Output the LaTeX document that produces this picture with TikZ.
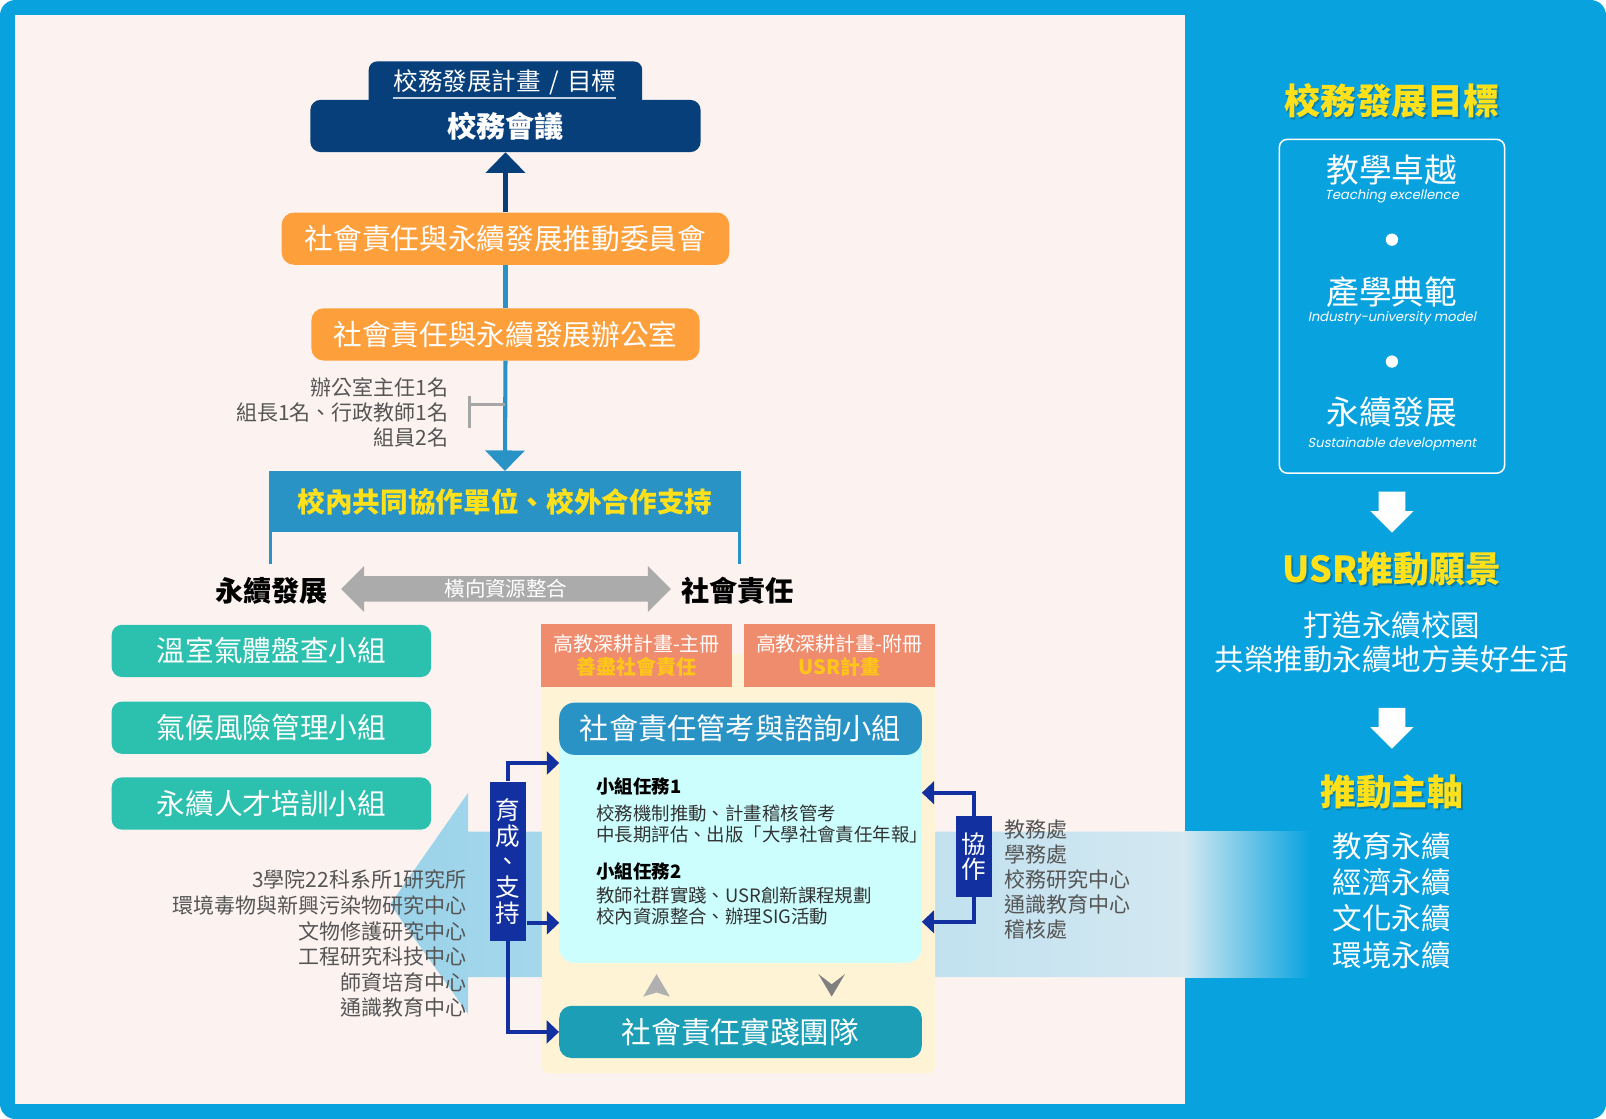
\documentclass[tikz,border=0pt]{standalone}
\usepackage{fontspec}
\setmainfont{Noto Sans CJK TC}
\newfontfamily\enfont{Poppins}[AutoFakeSlant=0.2]
\usetikzlibrary{positioning,shapes.arrows,arrows.meta}

\definecolor{frameblue}{HTML}{08A3DF}
\definecolor{panelpink}{HTML}{FCF3F1}
\definecolor{deepnavy}{HTML}{073F7A}
\definecolor{orangefill}{HTML}{FD9F3B}
\definecolor{midblue}{HTML}{2A93C6}
\definecolor{goldtext}{HTML}{FFE11B}
\definecolor{greenfill}{HTML}{2CC0AE}
\definecolor{salmon}{HTML}{EF8C6E}
\definecolor{tabgold}{HTML}{FFC61A}
\definecolor{paneyellow}{HTML}{FFF3D6}
\definecolor{cyanfill}{HTML}{CCFEFE}
\definecolor{tealfill}{HTML}{1C9FB6}
\definecolor{barnavy}{HTML}{1230A0}
\definecolor{textgray}{HTML}{555555}
\definecolor{bandleft}{HTML}{9AD3EA}
\definecolor{bandright}{HTML}{D3E8F1}

\newcommand{\txtsize}[2]{\fontsize{#1}{#2}\selectfont}

\tikzset{
    plainbox/.style={inner sep=0pt, align=center, text=white},
    orangebox/.style={plainbox, fill=orangefill, rounded corners=12pt, minimum height=51pt, font=\txtsize{28}{34}},
    greenbox/.style={plainbox, fill=greenfill, rounded corners=10pt, minimum width=312pt, minimum height=51pt, font=\txtsize{28}{34}},
    tabbox/.style={plainbox, fill=salmon, minimum width=186pt, minimum height=62pt, font=\txtsize{19.5}{23}},
    sidebar/.style={plainbox, fill=barnavy, minimum width=36pt, font=\txtsize{24}{25}},
    navyline/.style={barnavy, line width=4pt, -{Triangle[width=22pt,length=12pt]}},
    graytext/.style={inner sep=0pt, text=textgray, font=\txtsize{20.5}{24.5}},
    goldhead/.style={inner sep=0pt, text=goldtext, font=\bfseries\txtsize{35}{40}},
}

\begin{document}
\begin{tikzpicture}[x=1pt,y=-1pt]
\useasboundingbox (0,0) rectangle (1568,1092.5);
\fill[frameblue, rounded corners=15pt] (0,0) rectangle (1568,1092.5);
\fill[panelpink] (15,15) rectangle (1157,1078);

% band behind the groups
\shade[left color=bandleft, right color=bandright] (1157,812) -- (457,812) -- (457,774) -- (381,883) -- (457,990) -- (457,954) -- (1157,954) -- cycle;
\shade[left color=bandright, right color=frameblue] (1157,812) rectangle (1279,954);

% top of the chain
\fill[deepnavy, rounded corners=8pt] (360,60) rectangle (627,115);
\node[plainbox, font=\txtsize{24}{28}] (plan) at (493,80) {校務發展計畫\,\,/\,\,目標};
\draw[white!75!deepnavy, line width=1.5pt] ([yshift=-3pt]plan.south west) -- ([yshift=-3pt]plan.south east);
\node[plainbox, fill=deepnavy, rounded corners=10pt, minimum width=381pt, minimum height=51pt, font=\bfseries\txtsize{28.5}{34}] (council) at (493.5,123) {校務會議};

\node[orangebox, minimum width=437pt] (committee) at (493.5,233) {社會責任與永續發展推動委員會};
\node[orangebox, minimum width=379pt] (office) at (493.5,326.5) {社會責任與永續發展辦公室};
\node[plainbox, fill=midblue, text=goldtext, minimum width=460pt, minimum height=59pt, font=\bfseries\txtsize{27}{30}] (support) at (493,489.5) {校內共同協作單位、校外合作支持};

\draw[deepnavy, line width=4pt, -{Triangle[width=38pt,length=20pt]}] (committee.north) -- (council.south);
\draw[midblue, line width=4pt] (office.north) -- (committee.south);
\draw[midblue, line width=4pt, -{Triangle[width=38pt,length=20pt]}] (office.south) -- (support.north);
\draw[midblue, line width=3pt] ([xshift=1.5pt]support.south west) -- ++(0,31);
\draw[midblue, line width=3pt] ([xshift=-1.5pt]support.south east) -- ++(0,31);

% staff
\node[graytext, anchor=east, align=right] (staff) at (438,403) {辦公室主任1名\\組長1名、行政教師1名\\組員2名};
\coordinate (brk) at (458,395);
\draw[black!35, line width=3pt] (458,387) -- (458,418) (brk) -- (brk -| office.south);

% two sides
\node[inner sep=0pt, font=\bfseries\txtsize{27.5}{30}] (sdlabel) at (265,577) {永續發展};
\node[inner sep=0pt, font=\bfseries\txtsize{27.5}{30}] (srlabel) at (720,577) {社會責任};
\node[double arrow, fill=black!33, text=white, minimum height=322pt, minimum width=45pt, double arrow head extend=10pt, inner xsep=0pt, inner ysep=3pt, font=\txtsize{20}{24}] (resarrow) at (494,575) {橫向資源整合};

\foreach \name/\y/\label in {ghg/635.5/溫室氣體盤查小組, risk/710.5/氣候風險管理小組, talent/784.5/永續人才培訓小組}
    \node[greenbox] (\name) at (265,\y) {\label};

% social responsibility panel
\fill[paneyellow, rounded corners=8pt] (529,639) rectangle (913,1048);
\node[tabbox] (mainbook) at (621.5,640) {高教深耕計畫-主冊\\{\bfseries\color{tabgold}善盡社會責任}};
\node[tabbox] (usrbook) at (819.5,640) {高教深耕計畫-附冊\\{\bfseries\color{tabgold}USR計畫}};
\node[fill=cyanfill, rounded corners=15pt, minimum width=354pt, minimum height=254pt, inner sep=0pt] (tasks) at (723,813) {};
\node[plainbox, fill=midblue, rounded corners=15pt, minimum width=354pt, minimum height=51pt, font=\txtsize{28.5}{34}] (review) at (723,711.5) {社會責任管考與諮詢小組};
\foreach \y/\line [count=\i] in {768/{\bfseries\color{black}小組任務1}, 794/校務機制推動、計畫稽核管考, 815/中長期評估、出版「大學社會責任年報」, 851/{\bfseries\color{black}小組任務2}, 874/教師社群實踐、USR創新課程規劃, 895/校內資源整合、辦理SIG活動}
    \node[anchor=west, inner sep=0pt, text=black!80, font=\txtsize{18}{21}] (task\i) at (582,\y) {\line};
\fill[black!31] (628,973) -- (641,951) -- (654,973) -- (641,969) -- cycle;
\fill[gray] (799,951) -- (812,973) -- (825,951) -- (812,961) -- cycle;
\node[plainbox, fill=tealfill, rounded corners=12pt, minimum width=354pt, minimum height=51pt, font=\txtsize{29}{34}] (practice) at (723,1007.5) {社會責任實踐團隊};

% support and cooperation
\node[sidebar, minimum height=156pt] (nurture) at (496,841) {育\\成\\、\\支\\持};
\node[sidebar, minimum height=79pt] (collab) at (951,836.5) {協\\作};
\coordinate (nurtin) at (546,745);
\coordinate (nurtmid) at (546,901);
\coordinate (collin) at (900,774);
\coordinate (collout) at (900,900);
\draw[navyline] (nurture.north) |- (nurtin);
\draw[navyline] (nurture.east |- nurtmid) -- (nurtmid);
\draw[navyline] (nurture.south) |- (practice.west);
\draw[navyline] (collab.north) |- (collin);
\draw[navyline] (collab.south) |- (collout);

\node[graytext, anchor=east, align=right, font=\txtsize{20.5}{25}] (units) at (456,921.5) {3學院22科系所1研究所\\環境毒物與新興污染物研究中心\\文物修護研究中心\\工程研究科技中心\\師資培育中心\\通識教育中心};
\node[graytext, anchor=west, align=left] (partners) at (981,859) {教務處\\學務處\\校務研究中心\\通識教育中心\\稽核處};

% right column
\foreach \name/\y/\txt in {goaltitle/98/校務發展目標, visiontitle/556/USR推動願景, axistitle/773/推動主軸} {
    \node[goldhead, text=black, text opacity=0.22] (\name shadow) at (1360.5,\y+2) {\txt};
    \node[goldhead] (\name) at (1359,\y) {\txt};
}
\node[draw=white, line width=1.5pt, rounded corners=8pt, minimum width=220pt, minimum height=326pt, inner sep=0pt] (goalbox) at (1359,299) {};
\foreach \zh/\en/\y/\ey [count=\i] in {教學卓越/Teaching excellence/166/192, 產學典範/Industry-university model/285/311, 永續發展/Sustainable development/402/434} {
    \node[plainbox, font=\txtsize{32}{36}] (goal\i) at (1359,\y) {\zh};
    \node[plainbox, font=\enfont\itshape\txtsize{12.8}{15}] (goalen\i) at (1359,\ey) {\en};
}
\foreach \y in {234,353}
    \fill[white] (1359,\y) circle (6pt);
\foreach \y in {480,691}
    \fill[white] (1346,\y) -- (1372,\y) -- (1372,\y+19) -- (1380,\y+19) -- (1359,\y+40) -- (1338,\y+19) -- (1346,\y+19) -- cycle;
\node[plainbox, font=\txtsize{28.8}{34}] (vision) at (1359,627) {打造永續校園\\共榮推動永續地方美好生活};
\node[plainbox, font=\txtsize{28.8}{35.5}] (axes) at (1359,879) {教育永續\\經濟永續\\文化永續\\環境永續};
\end{tikzpicture}
\end{document}
